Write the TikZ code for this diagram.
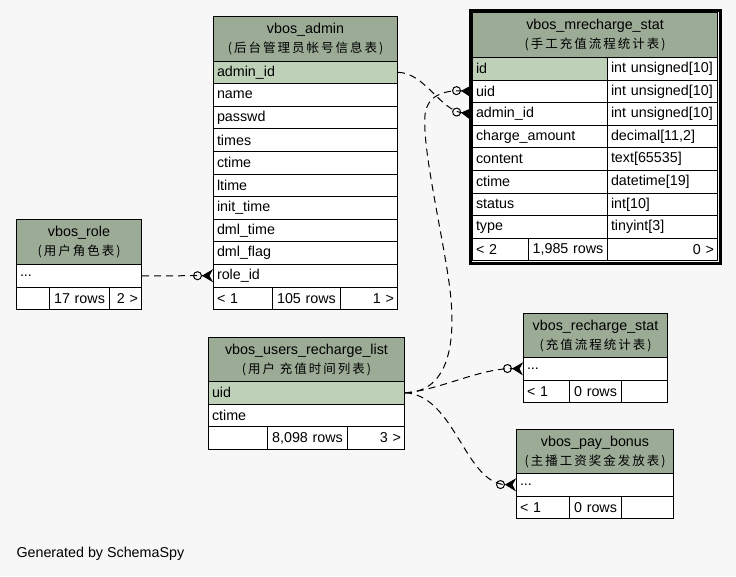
\documentclass[tikz,border=0pt]{standalone}
\usepackage{fontspec}
\setmainfont{Liberation Sans}
\newfontfamily\cjk[LetterSpace=16]{Noto Sans CJK SC}
\usetikzlibrary{arrows.meta}
\definecolor{hdrgreen}{HTML}{9BAB96}
\definecolor{pkgreen}{HTML}{BED1B8}
\definecolor{bggray}{HTML}{F7F7F7}
\newcommand\cname[1]{{\cjk\fontsize{12.5}{19}\selectfont(#1)}}

\begin{document}
\begin{tikzpicture}[x=1pt, y=-1pt, line width=1pt,
        font=\fontsize{14.3}{19}\selectfont,
        hdr/.style={draw, fill=hdrgreen, anchor=north west, minimum width=#1, minimum height=44.5pt, inner sep=0pt, align=center},
        fld/.style={draw, fill=white, anchor=north west, minimum height=22.6pt, inner xsep=3.5pt, inner ysep=0pt, text width=#1, align=left},
        pk/.style={fld=#1, fill=pkgreen},
        cnt/.style={fld=#1},
        fk/.style={dash pattern=on 7pt off 5pt, -{Circle[open, length=9pt, width=9pt] Stealth[reversed, length=11pt, width=13pt, inset=3.5pt]}}]
        \fill[bggray] (0,0) rectangle (736,576);
        \useasboundingbox (0,0) rectangle (736,576);

        \node[hdr=184pt] (admin) at (213,16) {vbos\_admin\\\cname{后台管理员帐号信息表}};
        \node[pk=177pt] (admin-1) at (213,60.5) {admin\_id};
        \foreach \f [count=\i from 2] in {name,passwd,times,ctime,ltime,init\_time,dml\_time,dml\_flag,role\_id}
                \node[fld=177pt] (admin-\i) at (213,{60.5+(\i-1)*22.6}) {\f};
        \node[cnt=52pt] (admin-ft1) at (213,286.5) {< 1};
        \node[cnt=61pt, align=center] (admin-ft2) at (272,286.5) {105 rows};
        \node[cnt=50pt, align=right] (admin-ft3) at (340,286.5) {1 >};

        \node[hdr=125pt] (role) at (16,219) {vbos\_role\\\cname{用户角色表}};
        \node[fld=118pt] (role-dots) at (16,264) {...};
        \node[cnt=26pt] (role-ft1) at (16,286.6) {};
        \node[cnt=53pt, align=center] (role-ft2) at (49,286.6) {17 rows};
        \node[cnt=25pt, align=right] (role-ft3) at (109,286.6) {2 >};

        \node[hdr=245pt] (mr) at (472,12) {vbos\_mrecharge\_stat\\\cname{手工充值流程统计表}};
        \node[pk=128pt] (mr-1) at (472,57) {id};
        \node[fld=103pt] (mr-1t) at (607,57) {int unsigned[10]};
        \foreach \f/\t [count=\i from 2] in {uid/int unsigned[10], admin\_id/int unsigned[10], charge\_amount/{decimal[11,2]},
                content/text[65535], ctime/datetime[19], status/int[10], type/tinyint[3]} {
                \node[fld=128pt] (mr-\i) at (472,{57+(\i-1)*22.6}) {\f};
                \node[fld=103pt] (mr-\i t) at (607,{57+(\i-1)*22.6}) {\t};
        }
        \node[cnt=49pt] (mr-ft1) at (472,237.8) {< 2};
        \node[cnt=72pt, align=center] (mr-ft2) at (528,237.8) {1,985 rows};
        \node[cnt=103pt, align=right] (mr-ft3) at (607,237.8) {0 >};
        \draw[line width=3pt] ([shift={(-2,-2)}]mr.north west) rectangle ([shift={(2,2)}]mr-ft3.south east);

        \node[hdr=196pt] (url) at (208,337) {vbos\_users\_recharge\_list\\\cname{用户 充值时间列表}};
        \node[pk=189pt] (url-uid) at (208,381) {uid};
        \node[fld=189pt] (url-ctime) at (208,403.6) {ctime};
        \node[cnt=52pt] (url-ft1) at (208,426.2) {};
        \node[cnt=73pt, align=center] (url-ft2) at (267,426.2) {8,098 rows};
        \node[cnt=50pt, align=right] (url-ft3) at (347,426.2) {3 >};

        \node[hdr=144pt] (rs) at (523,313) {vbos\_recharge\_stat\\\cname{充值流程统计表}};
        \node[fld=137pt] (rs-dots) at (523,357) {...};
        \node[cnt=39pt] (rs-ft1) at (523,379.6) {< 1};
        \node[cnt=45pt, align=center] (rs-ft2) at (569,379.6) {0 rows};
        \node[cnt=39pt, align=right] (rs-ft3) at (621,379.6) {};

        \node[hdr=157pt] (pb) at (516,429) {vbos\_pay\_bonus\\\cname{主播工资奖金发放表}};
        \node[fld=150pt] (pb-dots) at (516,473) {...};
        \node[cnt=46pt] (pb-ft1) at (516,495.6) {< 1};
        \node[cnt=45pt, align=center] (pb-ft2) at (569,495.6) {0 rows};
        \node[cnt=45pt, align=right] (pb-ft3) at (621,495.6) {};

        \node[anchor=west, inner sep=0pt] (gen) at (16,554) {Generated by SchemaSpy};

        \draw[fk] (admin-1.east) .. controls (425,73) and (440,110) .. (mr-3.west);
        \draw[fk] (role-dots.east) -- (admin-10.west);
        \draw[fk] (url-uid.east) .. controls (450,392) and (456,340) .. (450,290)
                .. controls (444,240) and (422,150) .. (425,115)
                .. controls (427,95) and (445,90) .. (mr-2.west);
        \draw[fk] (url-uid.east) .. controls (440,390) and (480,368) .. (rs-dots.west);
        \draw[fk] (url-uid.east) .. controls (455,395) and (465,484) .. (pb-dots.west);
\end{tikzpicture}
\end{document}
